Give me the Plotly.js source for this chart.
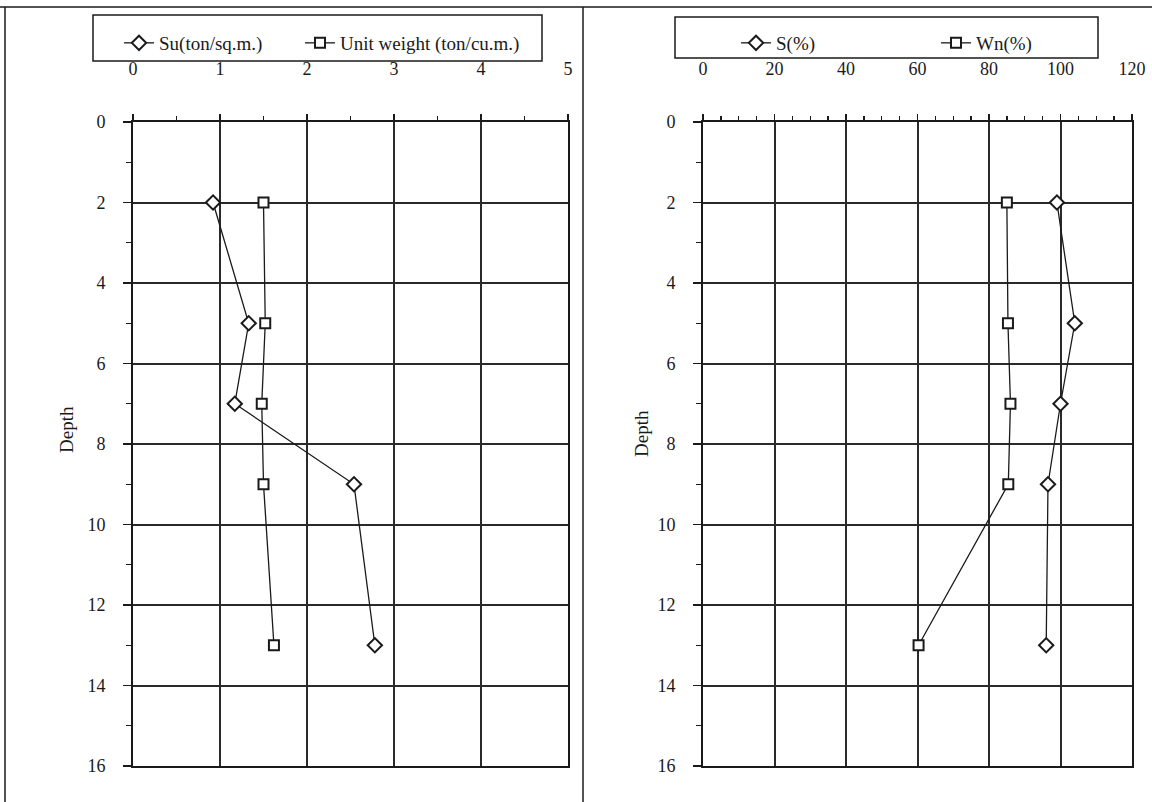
<!DOCTYPE html>
<html>
<head>
<meta charset="utf-8">
<script src="https://cdn.plot.ly/plotly-3.0.1.min.js"></script>
<style>html,body{margin:0;padding:0;background:#fff;}#chart{width:1152px;height:802px;}</style>
</head>
<body>
<div id="chart"></div>
<script>
// ---- data ----
var depth = [2, 5, 7, 9, 13];
var su = [0.92, 1.33, 1.17, 2.54, 2.78];
var unitWeight = [1.50, 1.52, 1.48, 1.50, 1.62];
var sPct = [99, 104, 100, 96.5, 96];
var wnPct = [85, 85.3, 86, 85.4, 60.3];
var leftXTicks = [0, 1, 2, 3, 4, 5];
var rightXTicks = [0, 20, 40, 60, 80, 100, 120];
var depthTicks = [0, 2, 4, 6, 8, 10, 12, 14, 16];

var FONT = 'Liberation Serif, Times New Roman, serif';
var INK = '#1a1a1a';
var W = 1152, H = 802;
function px(x) { return x / W; }
function py(y) { return 1 - y / H; }

function mkTrace(x, y, name, sym, xa, ya, lg) {
  return {
    x: x, y: y, name: name, type: 'scatter', mode: 'lines+markers',
    xaxis: xa, yaxis: ya, legend: lg,
    line: {color: INK, width: 1.3},
    marker: {symbol: sym, size: sym === 'diamond' ? 11 : 10, color: '#fff',
             line: {color: INK, width: 2}},
    cliponaxis: false
  };
}

var traces = [
  mkTrace(su, depth, 'Su(ton/sq.m.)', 'diamond', 'x', 'y', 'legend'),
  mkTrace(unitWeight, depth, 'Unit weight (ton/cu.m.)', 'square', 'x', 'y', 'legend2'),
  mkTrace(sPct, depth, 'S(%)', 'diamond', 'x2', 'y2', 'legend3'),
  mkTrace(wnPct, depth, 'Wn(%)', 'square', 'x2', 'y2', 'legend4')
];

function xAxis(domain, range, ticks, minorDt, anchor) {
  return {
    domain: domain, range: range, side: 'top', anchor: anchor,
    tickvals: ticks, ticktext: ticks.map(String),
    showgrid: true, gridcolor: '#2a2a2a', gridwidth: 2,
    showline: true, linecolor: INK, linewidth: 2, mirror: true,
    ticks: 'outside', ticklen: 6, tickwidth: 1.5, tickcolor: INK,
    minor: {dtick: minorDt, ticks: 'outside', ticklen: 4, tickwidth: 1.3, tickcolor: INK, showgrid: false},
    zeroline: false, ticklabelstandoff: 32,
    tickfont: {family: FONT, size: 18, color: INK}
  };
}
function yAxis(domain, anchor) {
  return {
    domain: domain, range: [16, 0], anchor: anchor,
    tickvals: depthTicks, ticktext: depthTicks.map(String),
    showgrid: true, gridcolor: '#2a2a2a', gridwidth: 2,
    showline: true, linecolor: INK, linewidth: 2, mirror: true,
    ticks: 'outside', ticklen: 8, tickwidth: 1.5, tickcolor: INK,
    minor: {dtick: 1, ticks: 'outside', ticklen: 5, tickwidth: 1.3, tickcolor: INK, showgrid: false},
    zeroline: false, ticklabelstandoff: 14,
    tickfont: {family: FONT, size: 18, color: INK}
  };
}

function lg(x, y) {
  return {x: px(x), y: py(y), xanchor: 'left', yanchor: 'middle', orientation: 'h',
          bgcolor: 'rgba(0,0,0,0)', borderwidth: 0,
          font: {family: FONT, size: 19, color: INK}};
}

var layout = {
  width: W, height: H,
  margin: {l: 0, r: 0, t: 0, b: 0},
  paper_bgcolor: '#fff', plot_bgcolor: '#fff',
  showlegend: true,
  xaxis: xAxis([px(133), px(568)], [0, 5], leftXTicks, 0.5, 'y'),
  yaxis: yAxis([py(766), py(122)], 'x'),
  xaxis2: xAxis([px(703), px(1132)], [0, 120], rightXTicks, 5, 'y2'),
  yaxis2: yAxis([py(766), py(122)], 'x2'),
  legend: lg(119, 43),
  legend2: lg(300, 43),
  legend3: lg(736, 43),
  legend4: lg(936, 43),
  shapes: [
    {type: 'rect', xref: 'paper', yref: 'paper', x0: px(93), x1: px(542), y0: py(61), y1: py(15), line: {color: INK, width: 1.5}},
    {type: 'rect', xref: 'paper', yref: 'paper', x0: px(675), x1: px(1098), y0: py(58), y1: py(17), line: {color: INK, width: 1.5}},
    {type: 'line', xref: 'paper', yref: 'paper', x0: 0, x1: 1, y0: py(7), y1: py(7), line: {color: INK, width: 1.5}},
    {type: 'line', xref: 'paper', yref: 'paper', x0: px(5), x1: px(5), y0: py(7), y1: 0, line: {color: INK, width: 1.5}},
    {type: 'line', xref: 'paper', yref: 'paper', x0: px(583), x1: px(583), y0: py(7), y1: 0, line: {color: INK, width: 1.5}}
  ],
  annotations: [
    {text: 'Depth', xref: 'paper', yref: 'paper', x: px(66), y: py(430), textangle: -90, showarrow: false,
     xanchor: 'center', yanchor: 'middle', font: {family: FONT, size: 19, color: INK}},
    {text: 'Depth', xref: 'paper', yref: 'paper', x: px(641), y: py(434), textangle: -90, showarrow: false,
     xanchor: 'center', yanchor: 'middle', font: {family: FONT, size: 19, color: INK}}
  ]
};

Plotly.newPlot('chart', traces, layout, {displayModeBar: false, staticPlot: true});
</script>
</body>
</html>
